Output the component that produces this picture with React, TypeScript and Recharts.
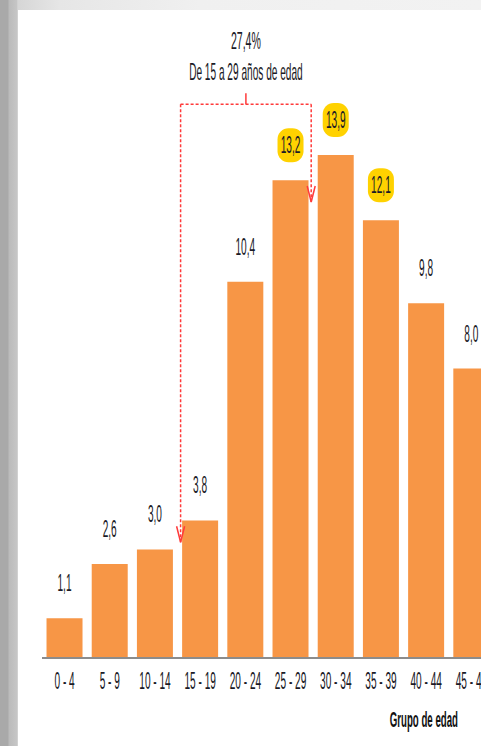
import { BarChart, Bar, XAxis, YAxis, LabelList, ReferenceLine } from 'recharts';

const categories = ['0 - 4', '5 - 9', '10 - 14', '15 - 19', '20 - 24', '25 - 29', '30 - 34', '35 - 39', '40 - 44', '45 - 49'];
const percentages = [1.1, 2.6, 3.0, 3.8, 10.4, 13.2, 13.9, 12.1, 9.8, 8.0];
const highlighted = ['25 - 29', '30 - 34', '35 - 39'];
const youthGroups = ['15 - 19', '20 - 24', '25 - 29'];

const data = categories.map((name, i) => ({ name, value: percentages[i] }));
const valueOf = (g: string) => percentages[categories.indexOf(g)];
const youthShare = youthGroups.reduce((s, g) => s + valueOf(g), 0);
const fmt = (v: number) => v.toFixed(1).replace('.', ',');

// the source image is squeezed horizontally, so text is too
const SQUEEZE = 0.44;
const FONT = '"Liberation Sans", Arial, sans-serif';
const INK = '#1a1a26';
const RED = '#ff3a3a';
const BRACKET_Y = 15.3;

const AgeTick = ({ x, y, payload }: any) => (
  <text
    transform={`translate(${x},${y + 23}) scale(${SQUEEZE},1)`}
    textAnchor="middle"
    fontSize={23}
    fontFamily={FONT}
    fill={INK}
  >
    {payload.value}
  </text>
);

const ValueLabel = ({ x, y, width, value, index }: any) => {
  const cx = x + width / 2;
  const cy = y - 35;
  const hl = highlighted.includes(categories[index]);
  return (
    <g>
      {hl && <rect x={cx - 13} y={cy - 17} width={26} height={34} rx={11} fill="#ffd200" />}
      <text
        transform={`translate(${cx},${cy + 8}) scale(${SQUEEZE},1)`}
        textAnchor="middle"
        fontSize={23}
        fontFamily={FONT}
        fill={INK}
      >
        {fmt(value)}
      </text>
    </g>
  );
};

const BracketTop = ({ x1, y1, x2 }: any) => {
  const left = x1 + 3;
  const right = x2 - 2;
  const mid = (left + right) / 2;
  return (
    <g>
      <line x1={left} y1={y1} x2={right} y2={y1} stroke={RED} strokeWidth={1.5} strokeDasharray="3 2" />
      <line x1={mid} y1={y1 - 11} x2={mid} y2={y1} stroke={RED} strokeWidth={1.5} />
      <text transform={`translate(${mid},${y1 - 55}) scale(${SQUEEZE},1)`} textAnchor="middle" fontSize={24} fontFamily={FONT} fill={INK}>
        {fmt(youthShare)}%
      </text>
      <text transform={`translate(${mid},${y1 - 24}) scale(${SQUEEZE},1)`} textAnchor="middle" fontSize={23} fontFamily={FONT} fill={INK}>
        De 15 a 29 años de edad
      </text>
    </g>
  );
};

const arrowShape = (dx: number) => ({ x1, y1, y2 }: any) => {
  const x = x1 + dx;
  return (
    <g>
      <line x1={x} y1={y1} x2={x} y2={y2} stroke={RED} strokeWidth={1.5} strokeDasharray="3 2" />
      <polyline points={`${x - 4},${y2 - 16} ${x},${y2} ${x + 4},${y2 - 16}`} fill="none" stroke={RED} strokeWidth={1.5} />
    </g>
  );
};

const App = () => {
  return (
    <div style={{ position: 'absolute', left: 0, top: 0, width: 481, height: 746, overflow: 'hidden', background: '#fff' }}>
      <div style={{ position: 'absolute', left: 0, top: 0, width: 481, height: 10, background: 'linear-gradient(to right, #cfcfcf 0px, #e6e6e6 60px, #f0f0f0 200px, #f2f2f2 481px)' }} />
      <div style={{ position: 'absolute', left: 0, top: 0, width: 18, height: 746, background: 'linear-gradient(to right, #a9a9a9 0px, #a9a9a9 8px, #bbbbbb 9px, #c6c6c6 17px, #dcdcdc 18px)' }} />
      <div style={{ position: 'absolute', left: 0, top: 0 }}>
        <BarChart
          width={500}
          height={746}
          data={data}
          margin={{ top: 79, right: 6, left: 42, bottom: 58 }}
          barCategoryGap="10%"
        >
          <XAxis
            dataKey="name"
            interval={0}
            tickLine={false}
            axisLine={{ stroke: '#8c8c8c', strokeWidth: 2 }}
            tick={<AgeTick />}
            label={{
              content: ({ viewBox }: any) => (
                <text
                  transform={`translate(${viewBox.x + viewBox.width - 36},${viewBox.y + 69}) scale(${SQUEEZE},1)`}
                  textAnchor="end"
                  fontSize={22}
                  fontWeight="bold"
                  fontFamily={FONT}
                  fill="#111"
                >
                  Grupo de edad
                </text>
              ),
            }}
          />
          <YAxis hide domain={[0, 16]} />
          <Bar dataKey="value" fill="#f79646" isAnimationActive={false}>
            <LabelList dataKey="value" content={<ValueLabel />} />
          </Bar>
          <ReferenceLine
            position="start"
            ifOverflow="visible"
            segment={[{ x: youthGroups[0], y: BRACKET_Y }, { x: '30 - 34', y: BRACKET_Y }]}
            shape={BracketTop}
          />
          <ReferenceLine
            position="start"
            ifOverflow="visible"
            segment={[{ x: youthGroups[0], y: BRACKET_Y }, { x: youthGroups[0], y: valueOf(youthGroups[0]) - 0.6 }]}
            shape={arrowShape(3)}
          />
          <ReferenceLine
            position="start"
            ifOverflow="visible"
            segment={[{ x: '30 - 34', y: BRACKET_Y }, { x: '30 - 34', y: valueOf(youthGroups[2]) - 0.6 }]}
            shape={arrowShape(-2)}
          />
        </BarChart>
      </div>
    </div>
  );
};

export default App;
